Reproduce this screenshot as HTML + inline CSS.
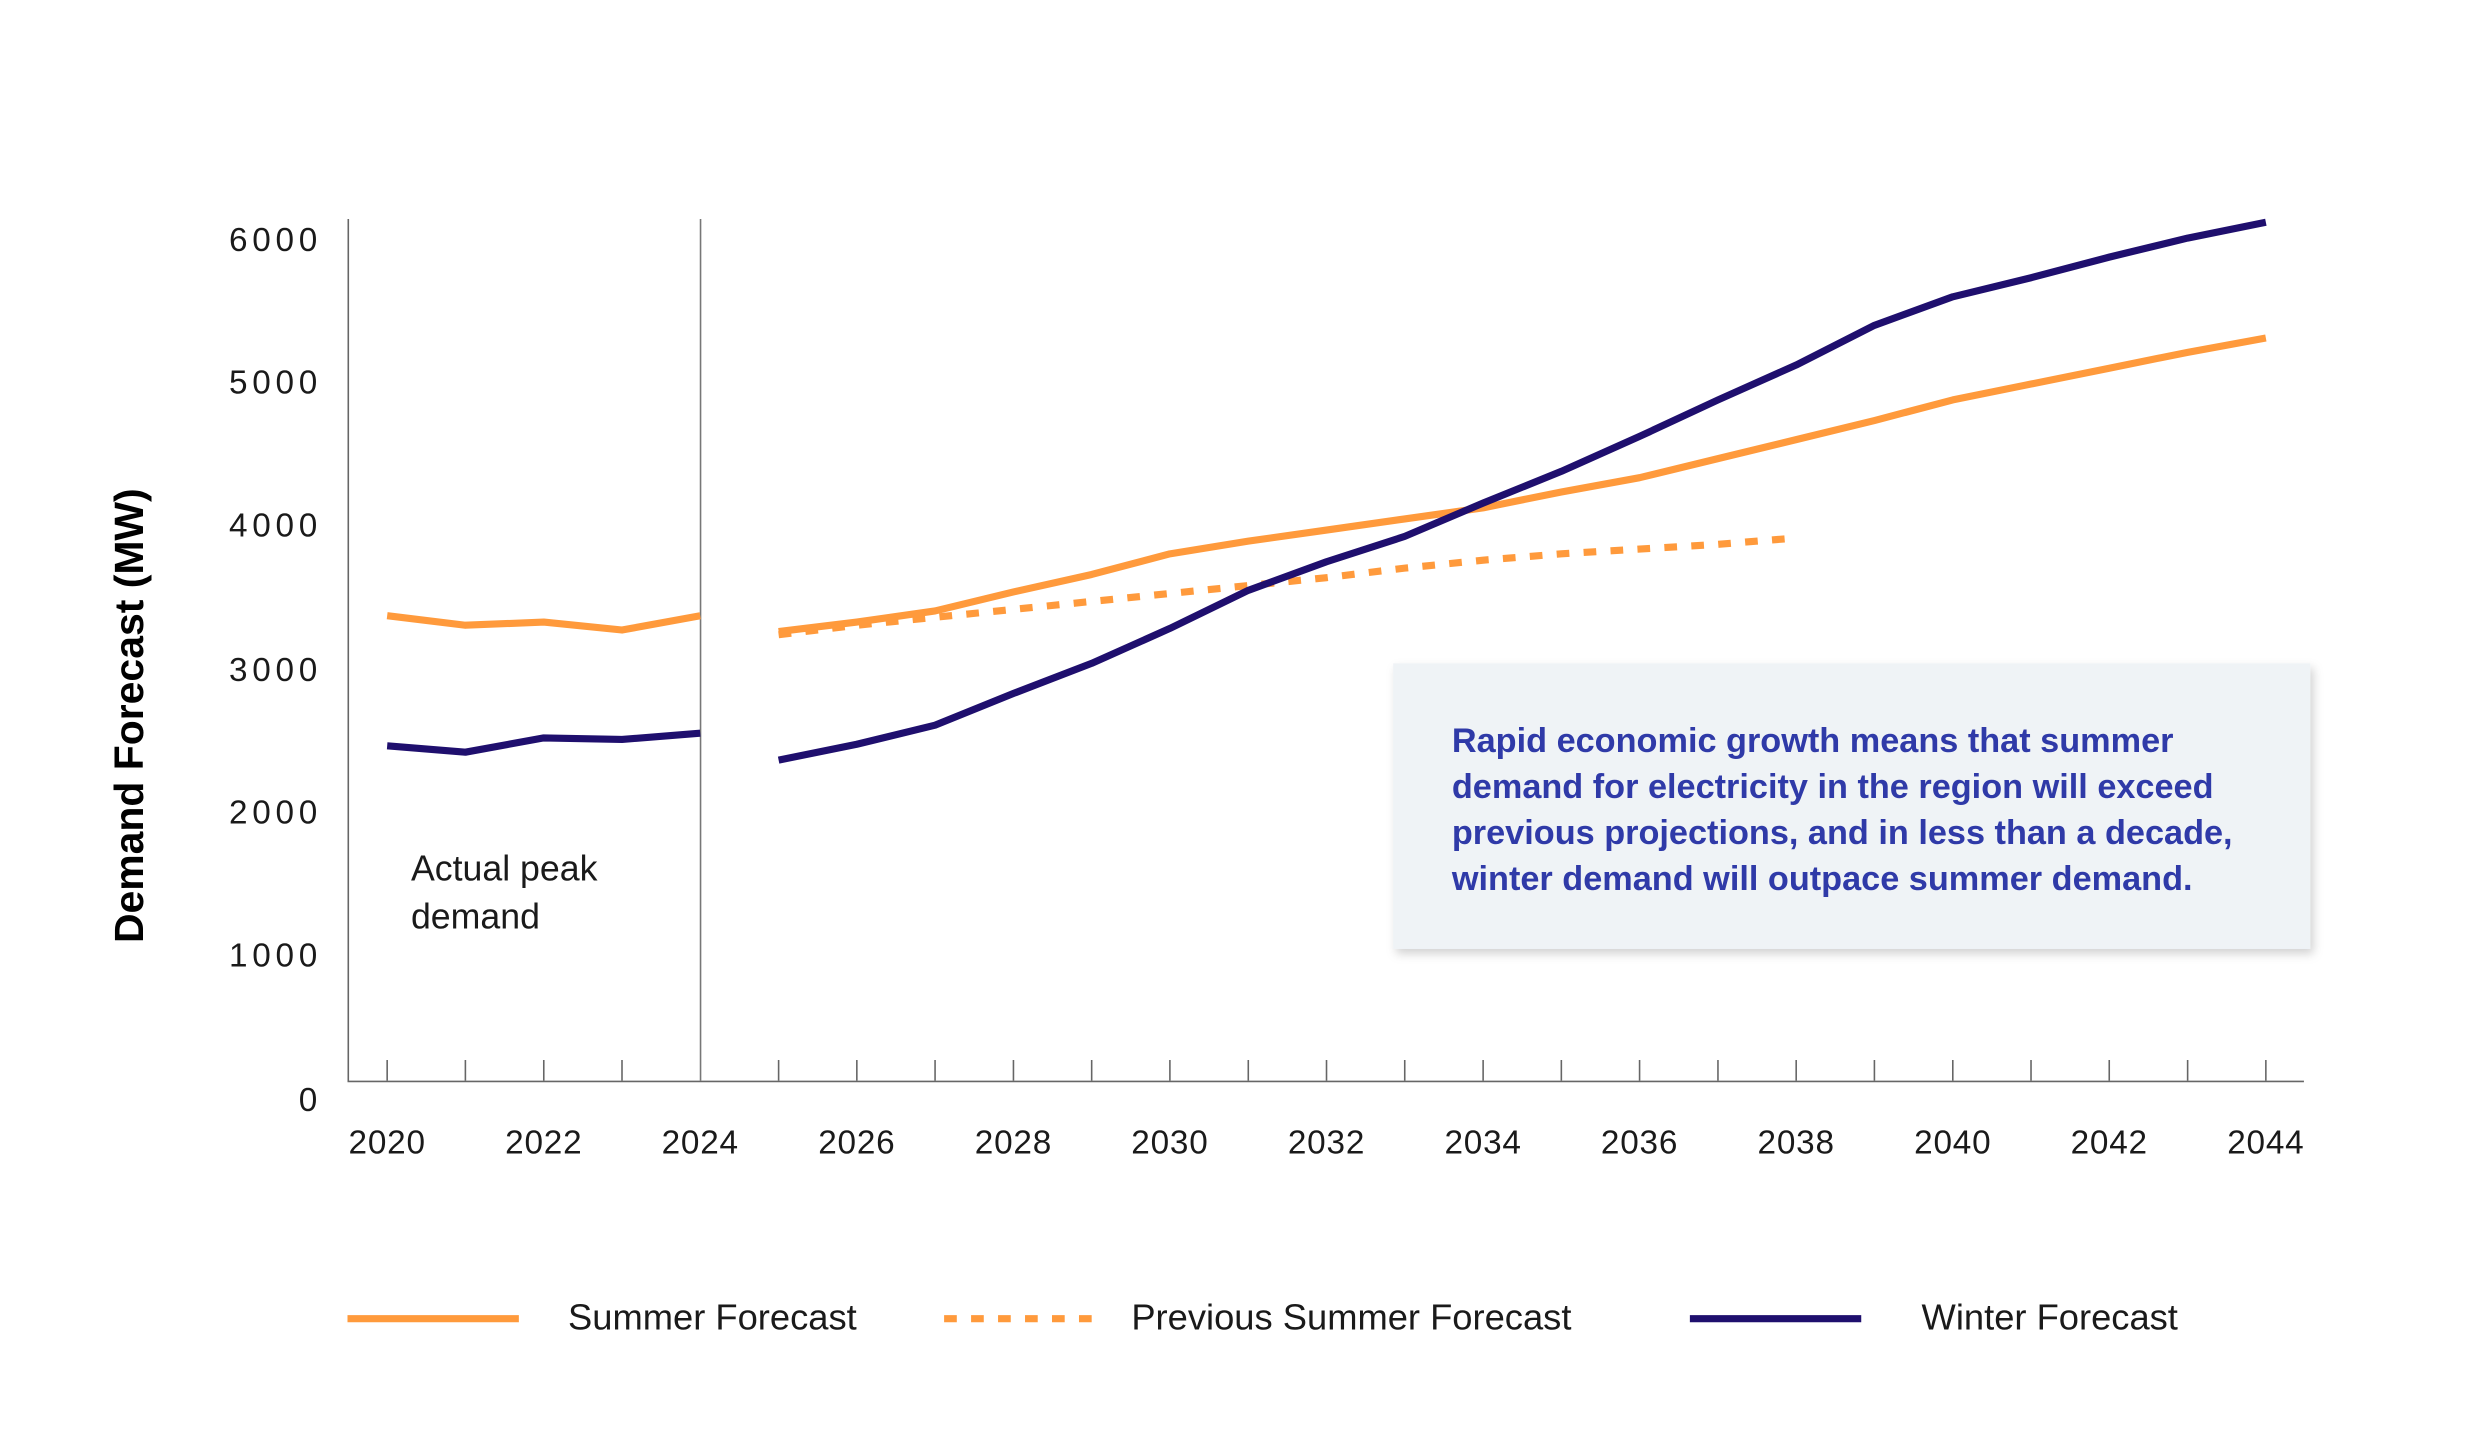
<!DOCTYPE html>
<html><head><meta charset="utf-8"><style>
html,body{margin:0;padding:0;background:#fff;}
svg{display:block;}
</style></head><body>
<svg width="2488" height="1452" viewBox="0 0 1568 915" xmlns="http://www.w3.org/2000/svg" font-family="Liberation Sans, sans-serif">
<defs><filter id="sh" x="-5%" y="-5%" width="115%" height="120%"><feDropShadow dx="2" dy="3" stdDeviation="3" flood-color="#000" flood-opacity="0.18"/></filter></defs>
<rect x="0" y="0" width="1568" height="915" fill="#fff"/>
<line x1="219.5" y1="138" x2="219.5" y2="681.5" stroke="#666" stroke-width="1"/>
<line x1="219" y1="681.5" x2="1452" y2="681.5" stroke="#666" stroke-width="1"/>
<line x1="441.5" y1="138" x2="441.5" y2="681" stroke="#777" stroke-width="1"/>
<g stroke="#666" stroke-width="1">
<line x1="244" y1="668" x2="244" y2="681"/><line x1="293.3" y1="668" x2="293.3" y2="681"/><line x1="342.7" y1="668" x2="342.7" y2="681"/><line x1="392" y1="668" x2="392" y2="681"/>
<line x1="490.7" y1="668" x2="490.7" y2="681"/><line x1="540" y1="668" x2="540" y2="681"/><line x1="589.3" y1="668" x2="589.3" y2="681"/><line x1="638.7" y1="668" x2="638.7" y2="681"/><line x1="688" y1="668" x2="688" y2="681"/><line x1="737.3" y1="668" x2="737.3" y2="681"/><line x1="786.7" y1="668" x2="786.7" y2="681"/><line x1="836" y1="668" x2="836" y2="681"/><line x1="885.3" y1="668" x2="885.3" y2="681"/><line x1="934.7" y1="668" x2="934.7" y2="681"/><line x1="984" y1="668" x2="984" y2="681"/><line x1="1033.3" y1="668" x2="1033.3" y2="681"/><line x1="1082.7" y1="668" x2="1082.7" y2="681"/><line x1="1132" y1="668" x2="1132" y2="681"/><line x1="1181.3" y1="668" x2="1181.3" y2="681"/><line x1="1230.7" y1="668" x2="1230.7" y2="681"/><line x1="1280" y1="668" x2="1280" y2="681"/><line x1="1329.3" y1="668" x2="1329.3" y2="681"/><line x1="1378.7" y1="668" x2="1378.7" y2="681"/><line x1="1428" y1="668" x2="1428" y2="681"/>
</g>
<g font-size="21" fill="#1a1a1a" text-anchor="end" letter-spacing="3">
<text x="203" y="158">6000</text><text x="203" y="248">5000</text><text x="203" y="338">4000</text><text x="203" y="429">3000</text><text x="203" y="519">2000</text><text x="203" y="609">1000</text><text x="203" y="700">0</text>
</g>
<g font-size="21" fill="#1a1a1a" text-anchor="middle" letter-spacing="0.5">
<text x="244" y="727">2020</text><text x="342.7" y="727">2022</text><text x="441.3" y="727">2024</text><text x="540" y="727">2026</text><text x="638.7" y="727">2028</text><text x="737.3" y="727">2030</text><text x="836" y="727">2032</text><text x="934.7" y="727">2034</text><text x="1033.3" y="727">2036</text><text x="1132" y="727">2038</text><text x="1230.7" y="727">2040</text><text x="1329.3" y="727">2042</text><text x="1428" y="727">2044</text>
</g>
<text transform="translate(90,451) rotate(-90)" text-anchor="middle" font-size="25.8" font-weight="bold" fill="#000">Demand Forecast (MW)</text>
<text x="259" y="555" font-size="22.5" fill="#1a1a1a">Actual peak</text>
<text x="259" y="585" font-size="22.5" fill="#1a1a1a">demand</text>
<g fill="none" stroke-width="4.5" stroke-linejoin="round">
<polyline stroke="#ff9a3c" points="244,388 293.3,394 342.7,392 392,397 441.3,388"/>
<polyline stroke="#ff9a3c" points="490.7,398 540,392 589.3,385 638.7,373 688,362 737.3,349 786.7,341 836,334 885.3,327 934.7,320 984,310 1033.3,301 1082.7,289 1132,277 1181.3,265 1230.7,252 1280,242 1329.3,232 1378.7,222 1428,213"/>
<polyline stroke="#ff9a3c" stroke-dasharray="8,9" points="490.7,400 540,394 589.3,389 638.7,384 688,379 737.3,374 786.7,369 836,364 885.3,358 934.7,353 984,349 1033.3,346 1082.7,343 1132,339"/>
<polyline stroke="#1f0f6e" points="244,470 293.3,474 342.7,465 392,466 441.3,462"/>
<polyline stroke="#1f0f6e" points="490.7,479 540,469 589.3,457 638.7,437 688,418 737.3,396 786.7,372 836,354 885.3,338 934.7,317 984,297 1033.3,275 1082.7,252 1132,230 1181.3,205 1230.7,187 1280,175 1329.3,162 1378.7,150 1428,140"/>
</g>
<rect x="878" y="418" width="578" height="180" fill="#eff3f6" filter="url(#sh)"/>
<g font-size="21.6" font-weight="bold" fill="#2f3aa8">
<text x="915" y="474">Rapid economic growth means that summer</text>
<text x="915" y="503">demand for electricity in the region will exceed</text>
<text x="915" y="532">previous projections, and in less than a decade,</text>
<text x="915" y="561">winter demand will outpace summer demand.</text>
</g>
<line x1="219" y1="831" x2="327" y2="831" stroke="#ff9a3c" stroke-width="4.5"/>
<line x1="595" y1="831" x2="695" y2="831" stroke="#ff9a3c" stroke-width="4.5" stroke-dasharray="8,9"/>
<line x1="1065" y1="831" x2="1173" y2="831" stroke="#1f0f6e" stroke-width="4.5"/>
<g font-size="22.9" fill="#1a1a1a">
<text x="358" y="838">Summer Forecast</text>
<text x="713" y="838">Previous Summer Forecast</text>
<text x="1211" y="838">Winter Forecast</text>
</g>
</svg>
</body></html>
